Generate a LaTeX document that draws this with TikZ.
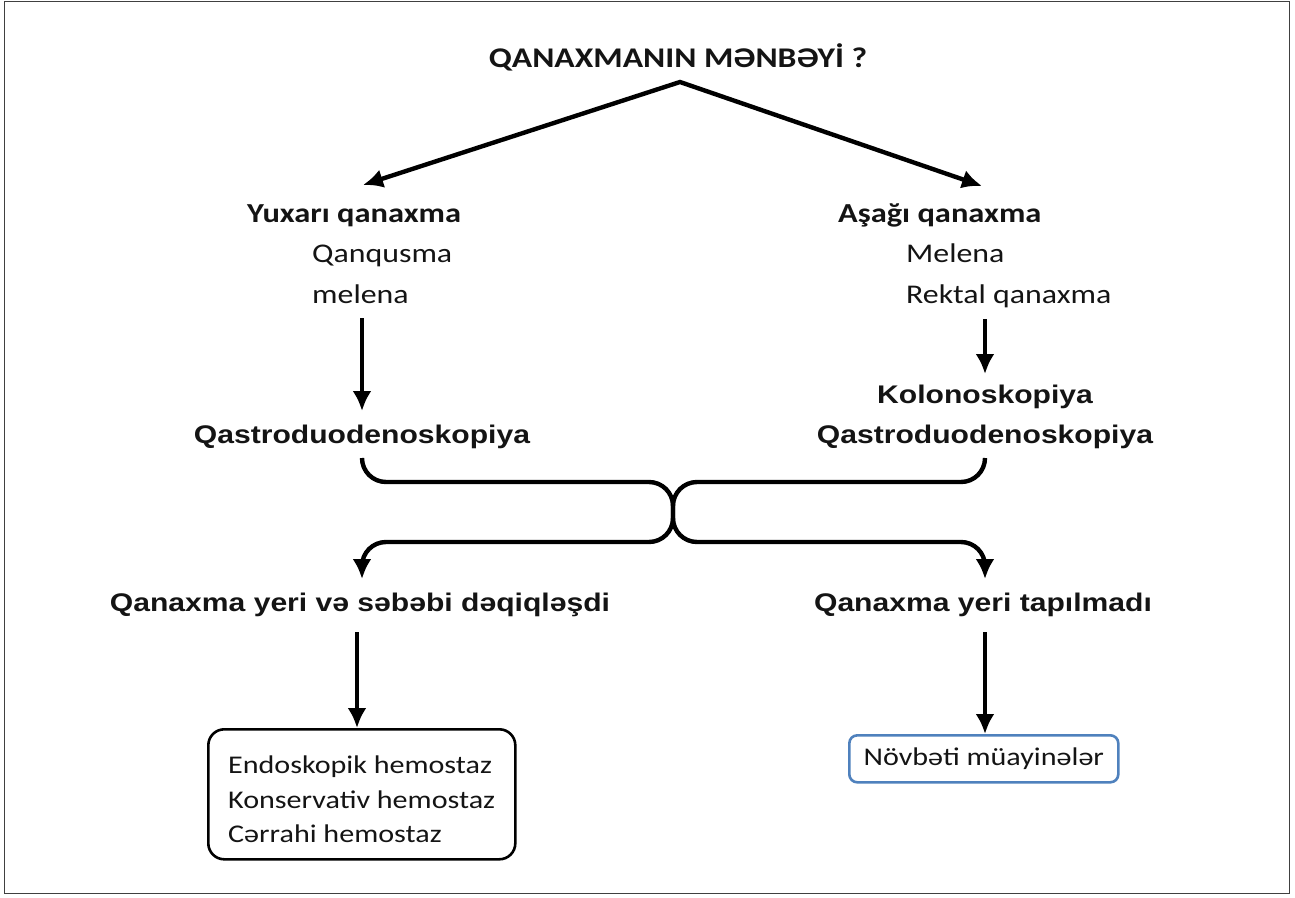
\documentclass[tikz,border=0pt]{standalone}
\usepackage{fontspec}
\usetikzlibrary{arrows.meta}
\newfontfamily\calf{Carlito}[FakeStretch=1.18]
\newfontfamily\arif{Liberation Sans}[FakeStretch=1.18]
\definecolor{boxblue}{RGB}{79,129,189}
\tikzset{
  txt/.style={inner sep=0pt, text=black!92},
  calreg/.style={txt, font=\calf\fontsize{27}{33}\selectfont},
  boxtxt/.style={txt, font=\calf\fontsize{25.5}{33}\selectfont},
  calbold/.style={txt, font=\calf\bfseries\fontsize{27.5}{33}\selectfont},
  aribold/.style={txt, font=\arif\bfseries\fontsize{25.5}{38}\selectfont},
  tip/.style={-{Latex[length=20pt,width=19pt]}},
  arr/.style={line width=4.4pt, tip},
  conn/.style={line width=4.4pt, rounded corners=24pt},
  roundbox/.style={draw, line width=2.6pt, rounded corners=16pt},
}
\begin{document}
\begin{tikzpicture}[x=1pt,y=-1pt]
\useasboundingbox (0,0) rectangle (1295,897);
\draw[line width=1.6pt, black!75] (4.5,1.5) rectangle (1289.5,893.5);

% title
\node[txt, font=\calf\bfseries\fontsize{28.5}{34}\selectfont, anchor=center] (title) at (678,57) {QANAXMANIN MƏNBƏYİ ?};
\coordinate (apex) at (680,82);
\coordinate (lt) at (363,185);
\coordinate (rt) at (982,186);
\draw[line width=4.4pt, line join=miter, {Latex[length=20pt,width=19pt]}-{Latex[length=20pt,width=19pt]}] (lt) -- (apex) -- (rt);

% upper branch
\node[calbold, anchor=base west] (up) at (247,222) {Yuxarı qanaxma};
\node[calreg, anchor=base west] (up1) at (312,262) {Qanqusma};
\node[calreg, anchor=base west] (up2) at (312,303) {melena};
\node[calbold, anchor=base west] (low) at (838,222) {Aşağı qanaxma};
\node[calreg, anchor=base west] (low1) at (906,262) {Melena};
\node[calreg, anchor=base west] (low2) at (906,303) {Rektal qanaxma};

\node[aribold, anchor=center] (qL) at (362,437) {Qastroduodenoskopiya};
\node[aribold, anchor=center] (kol) at (985,397) {Kolonoskopiya};
\node[aribold, anchor=center] (qR) at (985,437) {Qastroduodenoskopiya};

\coordinate (lA) at (362,318);
\coordinate (lB) at (362,411);
\coordinate (rA) at (985,319);
\coordinate (rB) at (985,374);
\draw[arr] (lA) -- (lB);
\draw[arr] (rA) -- (rB);

% crossing connector
\coordinate (lS) at (362,458);
\coordinate (rS) at (985,458);
\coordinate (lE) at (362,579);
\coordinate (rE) at (985,579);
\draw[conn, tip] (lS) -- (362,482) -- (673,482) -- (673,542) -- (985,542) -- (rE);
\draw[conn, tip] (rS) -- (985,482) -- (673,482) -- (673,542) -- (362,542) -- (lE);

\node[aribold, anchor=center] (found) at (360,605) {Qanaxma yeri və səbəbi dəqiqləşdi};
\node[aribold, anchor=center] (notf) at (983,605) {Qanaxma yeri tapılmadı};

% boxes
\node[roundbox, anchor=north west, minimum width=307pt, minimum height=130pt, inner sep=0pt] (boxL) at (207,728) {};
\node[boxtxt, anchor=base west] (b1) at (228,773) {Endoskopik hemostaz};
\node[boxtxt, anchor=base west] (b2) at (228,808) {Konservativ hemostaz};
\node[boxtxt, anchor=base west] (b3) at (228,842) {Cərrahi hemostaz};
\node[draw=boxblue, line width=2.6pt, rounded corners=8pt, anchor=north west, minimum width=269pt, minimum height=47pt, inner sep=0pt] (boxR) at (848,734) {};
\node[boxtxt, anchor=center] (nov) at (boxR.center) {Növbəti müayinələr};

\coordinate (fA) at (357,632);
\coordinate (nA) at (985,632);
\draw[arr] (fA) -- (fA |- boxL.north);
\draw[arr] (nA) -- (nA |- boxR.north);
\end{tikzpicture}
\end{document}
